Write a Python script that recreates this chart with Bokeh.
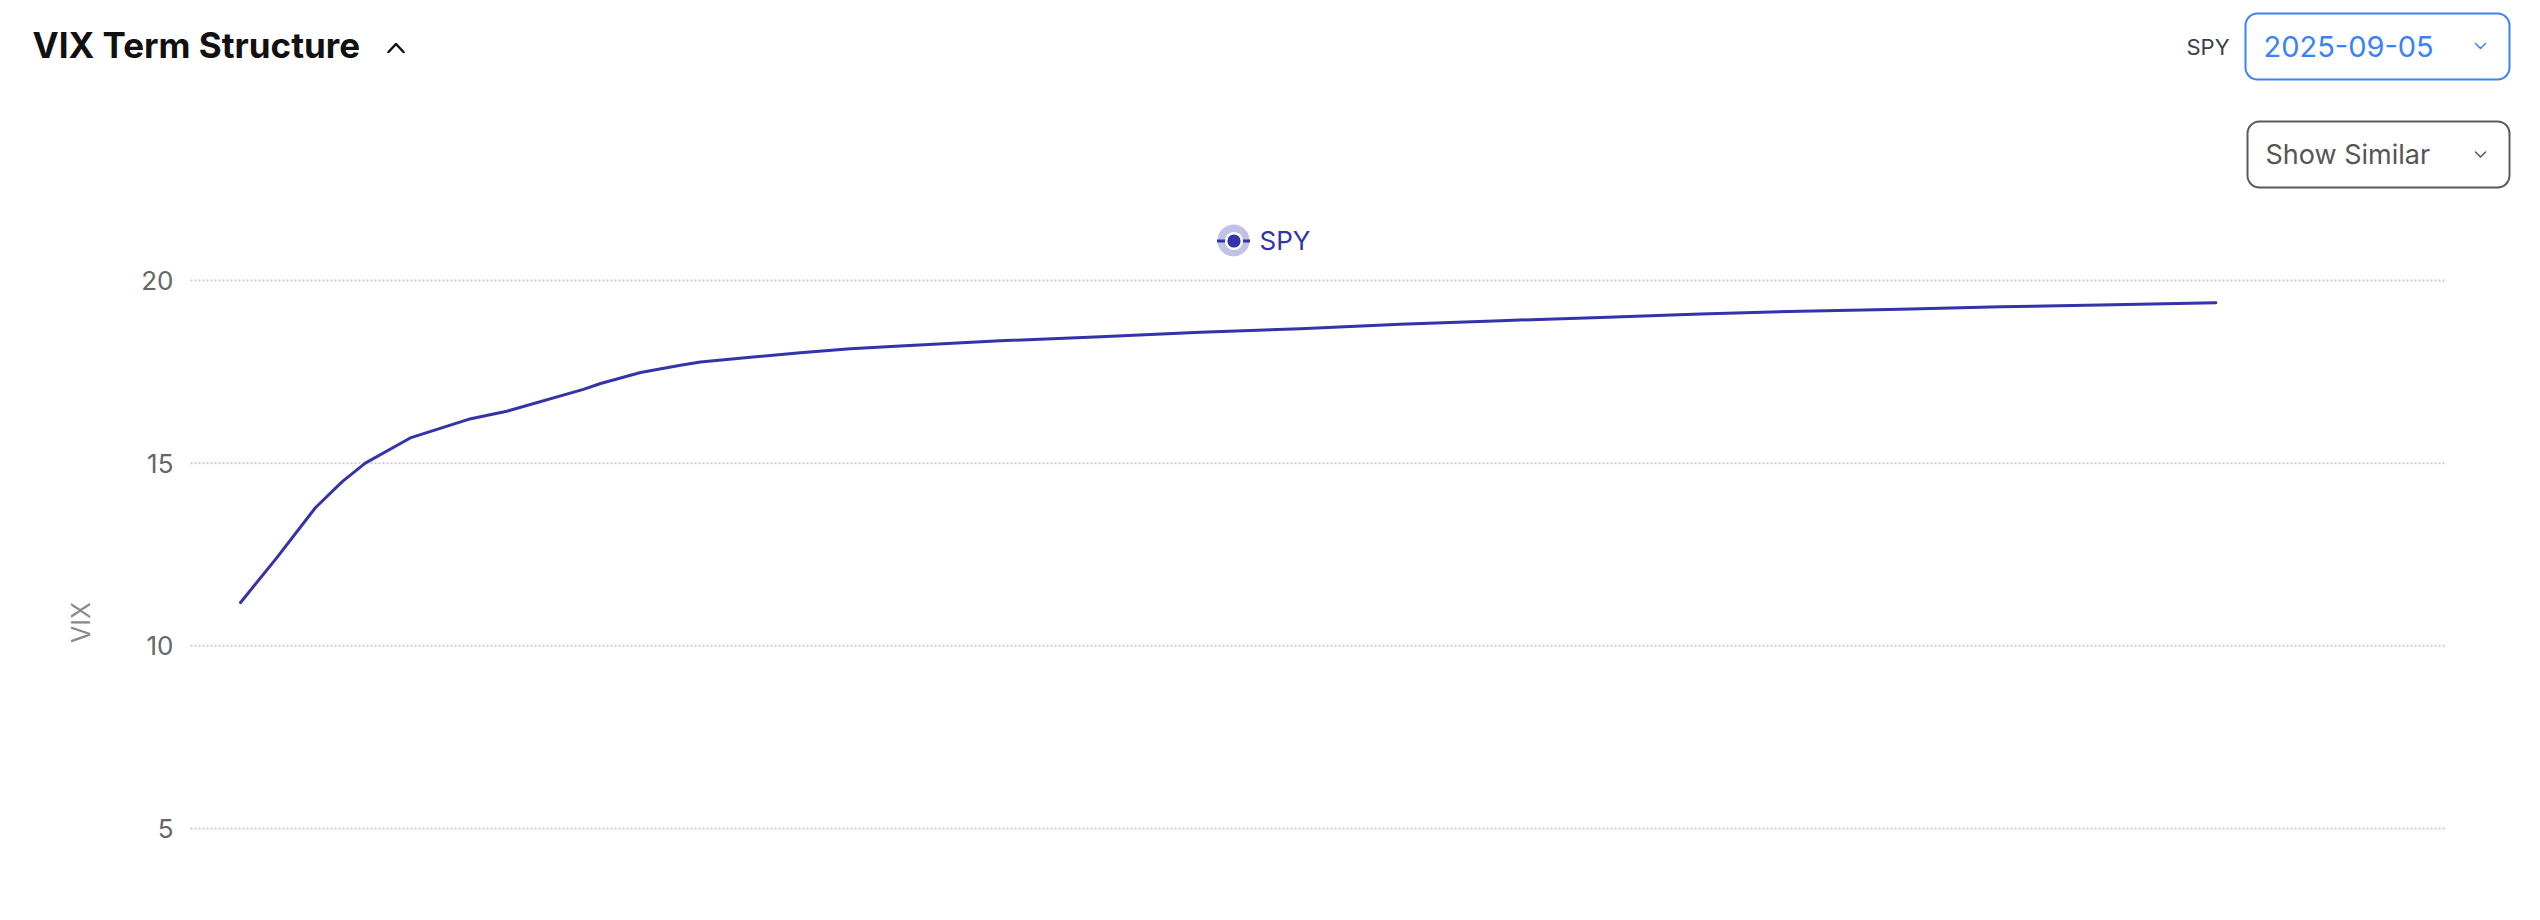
import math
from bokeh.plotting import figure
from bokeh.models import (Range1d, Legend, LegendItem, BoxAnnotation, ColumnDataSource)
from bokeh.core.properties import value
from bokeh.embed import file_html
from bokeh.resources import INLINE

# ---------------- data ----------------
TITLE = "VIX Term Structure"
TICKER = "SPY"
DATE = "2025-09-05"
BUTTON = "Show Similar"
Y_LABEL = "VIX"

days = [9.0, 15.5, 22.5, 27.4, 31.5, 39.6, 50.1, 57.0, 70.8, 73.9, 81.1, 88.3,
        91.9, 100.9, 109.9, 118.9, 127.9, 145.9, 164.0, 182.0, 200.0, 218.0,
        236.1, 254.1, 272.1, 290.1, 308.2, 326.2, 344.2, 365.0]
vix = [11.18, 12.40, 13.78, 14.50, 15.00, 15.69, 16.20, 16.42, 17.02, 17.18,
       17.48, 17.68, 17.77, 17.90, 18.02, 18.13, 18.21, 18.35, 18.46, 18.58,
       18.68, 18.80, 18.90, 18.99, 19.08, 19.16, 19.21, 19.28, 19.33, 19.39]
y_ticks = [5, 10, 15, 20]
x_max = 406.6          # right end of the plotting area, in days

# ---------------- layout / styling ----------------
FONT = "Inter"
LINE_C = "#3333aa"
W, H = 2530, 912
PLOT_LEFT = 190        # canvas px where day 0 sits
PX_PER_DAY = 5.549
Y20 = 280              # canvas px of VIX = 20
PX_PER_UNIT = 36.53


def fx(px):
    """canvas x pixel -> days"""
    return (px - PLOT_LEFT) / PX_PER_DAY


def fy(py):
    """canvas y pixel (from top) -> VIX"""
    return 20 - (py - Y20) / PX_PER_UNIT


p = figure(width=W, height=H,
           x_range=Range1d(fx(0), fx(W)), y_range=Range1d(fy(H), fy(0)),
           output_backend="svg", toolbar_location=None,
           x_axis_location=None, y_axis_location=None,
           min_border=0, outline_line_color=None)
p.xgrid.visible = False
p.ygrid.visible = False

# ---------------- header ----------------
p.text(x=[fx(32)], y=[fy(44.5)], text=[TITLE], text_font=value(FONT), text_font_size="35px",
       text_font_style="bold", text_color="#111111", text_baseline="middle")
p.line(x=[fx(388), fx(395.5), fx(403)], y=[fy(51.5), fy(43.5), fy(51.5)], line_width=2.5,
       color="#111111", line_cap="round", line_join="round")

p.text(x=[fx(2186)], y=[fy(46)], text=[TICKER], text_font=value(FONT), text_font_size="22px",
       text_color="#3a3f4b", text_baseline="middle")

p.add_layout(BoxAnnotation(left=fx(2245), right=fx(2509), top=fy(13), bottom=fy(79),
                           border_radius=12, fill_alpha=0, line_color="#3b82f6",
                           line_width=2, line_alpha=1))
p.text(x=[fx(2263)], y=[fy(45.5)], text=[DATE], text_font=value(FONT), text_font_size="29px",
       text_color="#3b82f6", text_baseline="middle")
p.line(x=[fx(2475), fx(2480), fx(2485)], y=[fy(43), fy(48), fy(43)], line_width=1.5,
       color="#3b82f6", line_cap="round", line_join="round")

p.add_layout(BoxAnnotation(left=fx(2247), right=fx(2509), top=fy(121), bottom=fy(187),
                           border_radius=12, fill_alpha=0, line_color="#5a5a5a",
                           line_width=2, line_alpha=1))
p.text(x=[fx(2265)], y=[fy(154)], text=[BUTTON], text_font=value(FONT), text_font_size="27px",
       text_color="#555555", text_baseline="middle")
p.line(x=[fx(2475), fx(2480), fx(2485)], y=[fy(151.5), fy(156.5), fy(151.5)], line_width=1.5,
       color="#555555", line_cap="round", line_join="round")

# ---------------- y axis (grid, tick labels, title) ----------------
p.segment(x0=[0] * len(y_ticks), y0=y_ticks, x1=[x_max] * len(y_ticks), y1=y_ticks,
          line_color="#cccccc", line_width=2, line_dash="2 2")
p.text(x=[fx(173)] * len(y_ticks), y=y_ticks, text=[str(t) for t in y_ticks],
       text_font=value(FONT), text_font_size="26px", text_color="#666666",
       text_align="right", text_baseline="middle")
p.text(x=[fx(80)], y=[fy(622)], text=[Y_LABEL], angle=math.pi / 2,
       text_font=value(FONT), text_font_size="25px", text_color="#8a8a8a",
       text_align="center", text_baseline="middle")

# ---------------- series ----------------
src = ColumnDataSource(data=dict(days=days, vix=vix))
line_r = p.line("days", "vix", source=src, line_width=3, color=LINE_C,
                line_cap="round", line_join="round")

# legend icon: light halo behind the legend entry
LEG_CX, LEG_CY = 1233, 240
p.scatter(x=[fx(LEG_CX)], y=[fy(LEG_CY)], size=32, fill_color="#c2c2e6", line_color=None)

# legend-only marker layers (hidden on the plot, drawn in the legend icon)
ref_src = ColumnDataSource(data=dict(x=days[-1:], y=vix[-1:]))
hole = p.scatter("x", "y", source=ref_src, size=13, fill_color="white",
                 line_color="white", line_width=5, visible=False)
dot = p.scatter("x", "y", source=ref_src, size=13, fill_color=LINE_C,
                line_color=None, visible=False)

GLYPH = 33
legend = Legend(items=[LegendItem(label=TICKER, renderers=[line_r, hole, dot])],
                location=(LEG_CX - GLYPH / 2, H - (LEG_CY + GLYPH / 2)),
                orientation="horizontal",
                glyph_width=GLYPH, glyph_height=GLYPH, label_height=GLYPH,
                padding=0, margin=0, label_standoff=10,
                label_text_font=FONT, label_text_font_size="26px",
                label_text_color=LINE_C, label_text_baseline="middle",
                border_line_color=None, background_fill_alpha=0,
                inactive_fill_alpha=0)
p.add_layout(legend)

open("out.html", "w").write(file_html(p, INLINE))
